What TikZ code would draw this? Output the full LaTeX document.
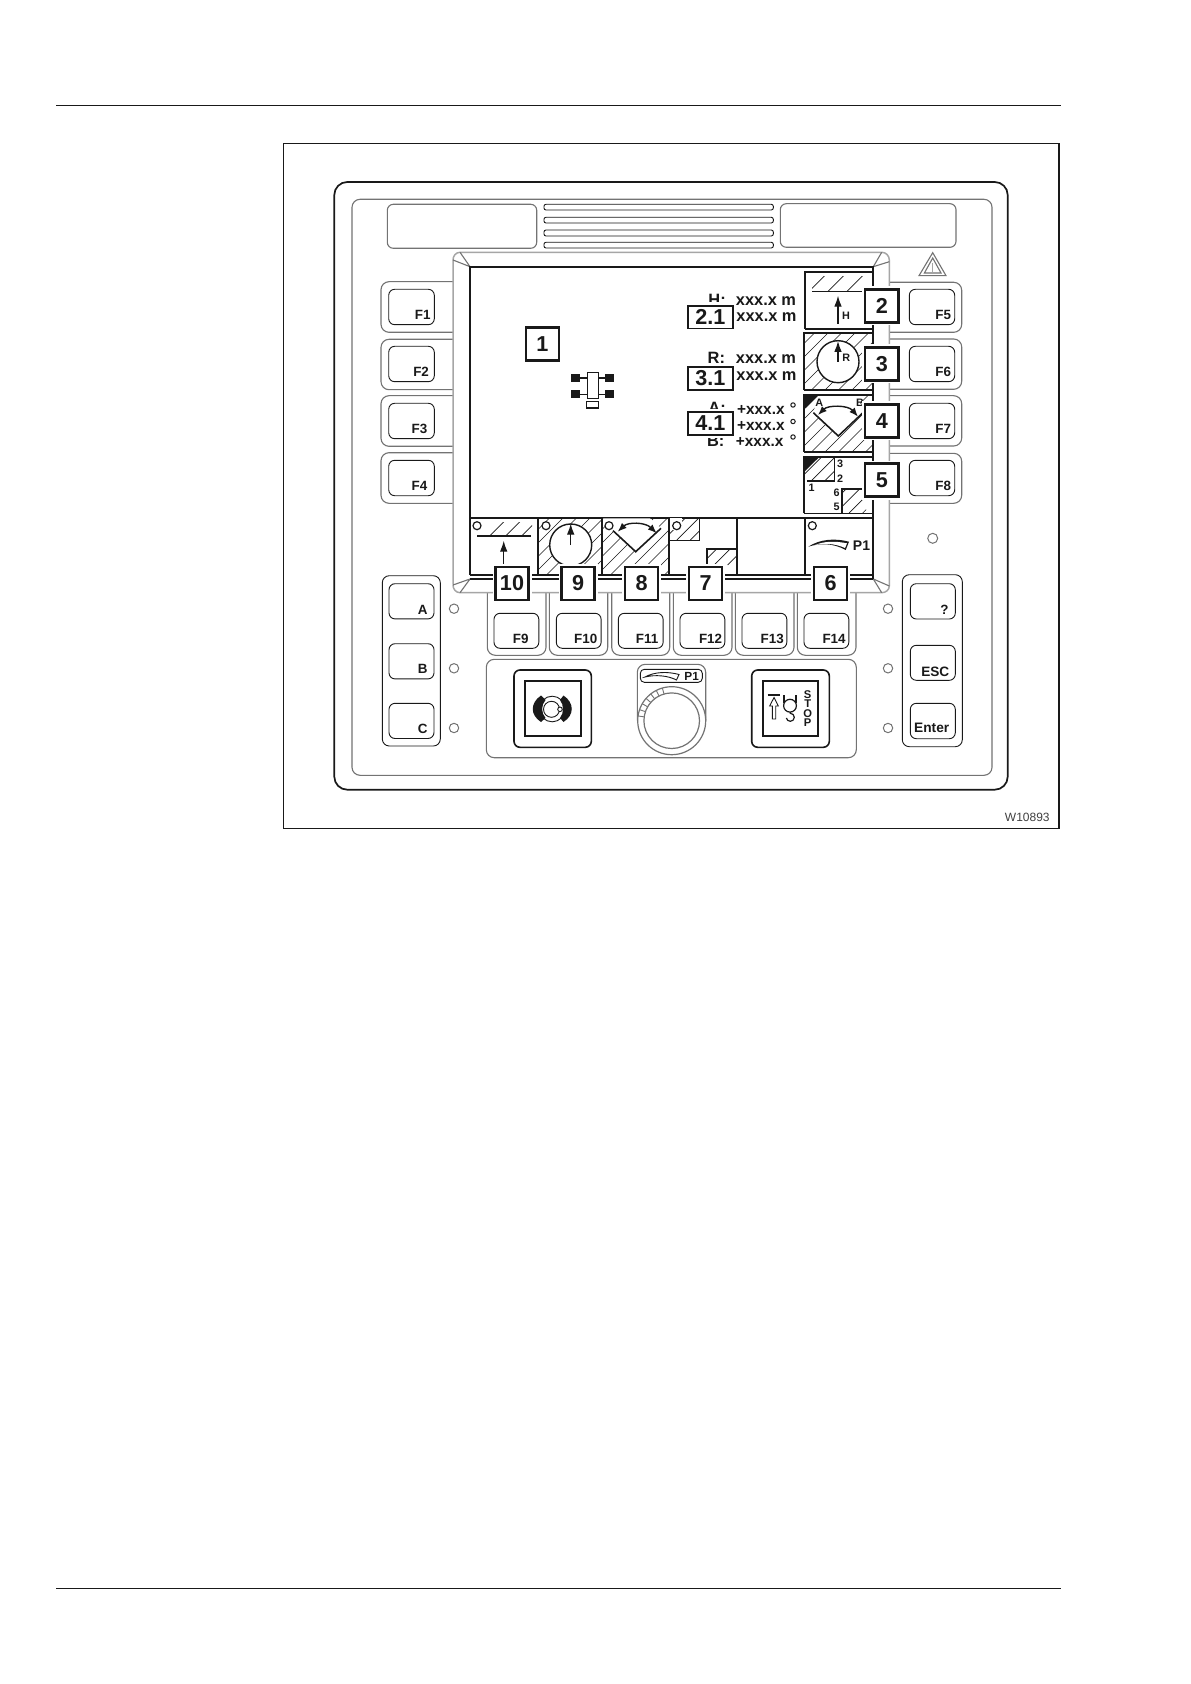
\documentclass[tikz,border=0pt]{standalone}
\usepackage{fontspec}
\setmainfont{Liberation Sans}
\usetikzlibrary{arrows.meta}
\definecolor{ink}{gray}{0.10}
\definecolor{midgray}{gray}{0.45}
\definecolor{lightg}{gray}{0.65}
\tikzset{
  thinl/.style={draw=ink,line width=0.45pt},
  grayl/.style={draw=lightg,line width=0.75pt},
  midl/.style={draw=midgray,line width=0.55pt},
  heavy/.style={draw=ink,line width=1.0pt},
  hatchline/.style={draw=ink,line width=0.33pt},
  housing/.style={draw=midgray,line width=0.55pt,rounded corners=4pt},
  keycap/.style={draw=ink,line width=0.45pt,rounded corners=3pt,fill=white},
  led/.style={draw=midgray,line width=0.5pt,fill=white},
  sled/.style={draw=ink,line width=0.6pt,fill=white},
  numbox/.style={draw=ink,line width=1.15pt,fill=white,minimum width=16.6pt,minimum height=16.6pt,inner sep=0pt,font=\fontsize{10.8}{12}\selectfont\bfseries,text=ink},
  valbox/.style={draw=ink,line width=0.85pt,fill=white,minimum width=22.6pt,minimum height=11.4pt,inner sep=0pt,font=\fontsize{10.8}{12}\selectfont\bfseries,text=ink},
  keylab/.style={inner sep=0pt,anchor=base east,font=\fontsize{6.7}{8}\selectfont\bfseries,text=ink},
  vallab/.style={inner sep=0pt,anchor=base west,font=\fontsize{8.2}{9}\selectfont\bfseries,text=ink},
  anglab/.style={inner sep=0pt,anchor=base west,font=\fontsize{7.7}{9}\selectfont\bfseries,text=ink},
  sidelab/.style={inner sep=0pt,anchor=base west,font=\fontsize{8.2}{9}\selectfont\bfseries,text=ink},
  symlab/.style={inner sep=0pt,anchor=base west,font=\fontsize{5.4}{6}\selectfont\bfseries,text=ink},
  tipa/.style={-{Latex[length=5.5pt,width=3.8pt]},draw=ink,line width=0.6pt},
  arcarr/.style={{Latex[length=4.5pt,width=3.5pt]}-{Latex[length=4.5pt,width=3.5pt]},draw=ink,line width=0.7pt}
}
\newcommand{\hatchrect}[5][13.5]{%
  \begin{scope}
    \clip (#2,#3) rectangle (#4,#5);
    \foreach \k in {0,...,11}{\draw[hatchline] ({#2-60+\k*#1},#5) -- ++(80,-80);}
  \end{scope}}
\begin{document}
\begin{tikzpicture}[x=0.5pt,y=-0.5pt]
\useasboundingbox (0,0) rectangle (1190,1684);
\fill[white] (0,0) rectangle (1190,1684);
% page rules and frame
\draw[thinl,line width=0.6pt] (56,105.3) -- (1060.7,105.3);
\draw[thinl,line width=0.6pt] (56,1588.3) -- (1060.7,1588.3);
\draw[thinl,line width=0.6pt] (283.3,143.3) rectangle (1059,828.3);
% panel
\draw[draw=ink,line width=0.85pt,rounded corners=6.5pt] (334.3,182) rectangle (1007.7,789.7);
\draw[midl,rounded corners=4pt] (352,199.3) rectangle (992,775.3);
\draw[midl,rounded corners=3pt] (387.3,204.3) rectangle (536.7,248.3);
\draw[midl,rounded corners=3pt] (780.3,203.7) rectangle (956,247.3);
% slats
\foreach \a/\b in {204.3/210,217.3/223,230/236,242.3/248}{
  \draw[thinl,rounded corners=1pt] (544,\a) rectangle (773.3,\b);
}
% warning triangle and right led
\draw[midl] (932.7,252.7) -- (946,275.7) -- (919,275.7) -- cycle;
\draw[midl] (932.7,258) -- (941,273) -- (924.4,273) -- cycle;
\draw[draw=lightg,line width=0.6pt] (932.7,263) -- (932.7,272);
\draw[led] (932.7,538.3) circle (2.5pt);
% left housings
\foreach \a/\b in {281.7/332.3,339.3/389.7,395.7/446.3,452.7/503.3}{
  \draw[housing] (453,\a) -- (381,\a) -- (381,\b) -- (453,\b);
}
\foreach \a/\t/\r in {289.3/F1/431,346.3/F2/429.3,403.3/F3/427.7,460.3/F4/427.7}{
  \draw[keycap] (388.7,\a) rectangle (434.3,\a+35.4);
  \node[keylab] at (\r,\a+30) {\t};
}
% right housings
\foreach \a/\b in {282.3/332.3,339/389.3,395.7/446,453.3/503.3}{
  \draw[housing] (889.3,\a) -- (961.7,\a) -- (961.7,\b) -- (889.3,\b);
}
\foreach \a/\t in {289.3/F5,346.3/F6,403.3/F7,460.3/F8}{
  \draw[keycap] (909.3,\a) rectangle (954.7,\a+35.4);
  \node[keylab] at (951.5,\a+30.5) {\t};
}
% bottom housings
\foreach \a/\b in {487.3/546,549.3/607.7,611.7/669.7,673.3/732,735.3/794,797.3/856}{
  \draw[housing] (\a,592.7) -- (\a,655.3) -- (\b,655.3) -- (\b,592.7);
}
\foreach \a/\t/\r in {494/F9/529,556.3/F10/597.7,618.3/F11/658.7,680/F12/722.5,742/F13/784.2,804/F14/846}{
  \draw[keycap] (\a,613.3) rectangle (\a+44.8,648.3);
  \node[keylab] at (\r,643.3) {\t};
}
% bezel
\draw[grayl] (453,592.7-8) -- (453,260) to[out=90,in=180] (460,252.3) -- (881.7,252.3) to[out=0,in=90] (889.3,260) -- (889.3,586) to[out=-90,in=0] (881.7,592.7) -- (460,592.7) to[out=180,in=-90] (453,585);
\draw[midl] (453,260) -- (470,266.7) -- (460,252.3);
\draw[midl] (453,585) -- (470,579) -- (460,592.7);
\draw[midl] (873.3,266.7) -- (889.3,261.7);
\draw[midl] (873.3,266.7) -- (881.7,252.3);
\draw[midl] (873.3,579) -- (889.3,586);
\draw[midl] (873.3,579) -- (881.7,592.7);
% side leds
\foreach \y in {608.7,668.3,728}{
  \draw[led] (454,\y) circle (2.35pt);
  \draw[led] (888,\y) circle (2.35pt);
}
% A B C group
\draw[thinl,rounded corners=3.5pt] (382.3,575.7) rectangle (440.3,746);
\foreach \a/\t/\b in {583.7/A/614,643.7/B/673.3,703.3/C/733}{
  \draw[keycap] (389,\a) rectangle (434,\a+35.2);
  \node[keylab] at (428,\b) {\t};
}
% right group
\draw[thinl,rounded corners=3.5pt] (902.3,574.7) rectangle (962.3,746.7);
\draw[keycap] (910.3,583.7) rectangle (955.3,619);
\draw[keycap] (910.3,645.3) rectangle (955.3,680.3);
\draw[keycap] (910.3,703.3) rectangle (955.3,738.7);
\node[keylab] at (949,614) {?};
\node[keylab,font=\fontsize{6.8}{8}\selectfont\bfseries] at (949.6,676.7) {ESC};
\node[keylab,font=\fontsize{6.85}{8}\selectfont\bfseries] at (949.6,732.7) {Enter};
% lower panel
\draw[midl,rounded corners=4pt] (486.3,659.3) rectangle (856.3,757.7);
% left button
\draw[draw=ink,line width=0.8pt,rounded corners=3pt] (514,670) rectangle (591.3,747.3);
\draw[draw=ink,line width=1.05pt] (525,681) rectangle (580.7,736.3);
\draw[thinl] (552.2,709) circle (6.4pt);
\fill[ink] (541,695.5) .. controls (530,703) and (530,715) .. (541,722) -- (545.5,718) .. controls (541,713) and (541,705) .. (545.5,700) -- cycle;
\fill[ink] (563.5,695.5) .. controls (574.5,703) and (574.5,715) .. (563.5,722) -- (560,718) .. controls (564,713) and (564,705) .. (560,700) -- cycle;
\draw[thinl,fill=white] (551.5,709.3) circle (4pt);
\draw[thinl,fill=white] (560,709.3) circle (1.15pt);
% right button
\draw[draw=ink,line width=0.8pt,rounded corners=3pt] (751.7,670) rectangle (829.3,747.3);
\draw[draw=ink,line width=1.05pt] (762.7,681) rectangle (818.3,736.3);
\draw[draw=ink,line width=0.9pt] (767.7,695) -- (780,695);
\draw[thinl,line join=miter] (772.3,719) -- (772.3,706) -- (769.7,706) -- (774,697.5) -- (778.3,706) -- (775.7,706) -- (775.7,719) -- cycle;
\draw[draw=ink,line width=0.6pt] (784,695) -- (784,703);
\draw[draw=ink,line width=0.6pt] (796,695) -- (796,703);
\draw[draw=ink,line width=0.6pt] (790,705.7) circle (3.2pt);
\draw[draw=ink,line width=0.6pt] (790.3,712) -- (790.3,713.3) arc[start angle=90,end angle=-170,radius=2pt];
\foreach \l/\y in {S/698,T/707,O/717,P/726.5}{
  \node[inner sep=0pt,anchor=base,font=\fontsize{5.6}{6}\selectfont\bfseries,text=ink] at (807.7,\y) {\l};
}
% knob
\draw[midl,rounded corners=4pt] (637.3,720.7) -- (637.3,664.3) -- (705.7,664.3) -- (705.7,720.7);
\fill[white] (671.7,720.7) circle (17pt);
\draw[midl,line width=0.6pt] (671.7,720.7) circle (17pt);
\draw[midl,line width=0.6pt] (671.7,720.7) circle (13.9pt);
\foreach \a in {172,161,150,139,128,117,106}{
  \draw[midl,line width=0.45pt] ({671.7+27.8*cos(\a)},{720.7-27.8*sin(\a)}) -- ({671.7+34*cos(\a)},{720.7-34*sin(\a)});
}
\draw[thinl,rounded corners=2pt] (640.3,669.3) rectangle (702.3,682.3);
\draw[thinl,fill=white] (645,677) .. controls (655,671.5) and (668,671.5) .. (679,674.5) -- (676.5,680) .. controls (668,675.5) and (655,674.5) .. (645,677) -- cycle;
\node[inner sep=0pt,anchor=base west,font=\fontsize{5.9}{6}\selectfont\bfseries,text=ink] at (684,680.7) {P1};
% screen
\fill[white] (470,266.7) rectangle (873.3,579);
\draw[heavy] (470,517.7) -- (470,266.7) -- (873.3,266.7) -- (873.3,579);
\draw[heavy] (470,517.7) -- (470,575);
\draw[thinl,line width=0.55pt] (470,575) -- (873.3,575);
\draw[heavy] (470,579.3) -- (873.3,579.3);
\draw[heavy] (470,517.7) -- (873.3,517.7);
\foreach \x in {538.3,602.3,669.3,736.7,805}{\draw[heavy] (\x,517.7) -- (\x,575);}
% key 10
\begin{scope}
  \clip (489,522) rectangle (532,535.7);
  \foreach \k in {0,...,3}{\draw[hatchline] ({490+\k*16},535.7) -- ++(30,-30);}
\end{scope}
\draw[sled] (477,525.7) circle (2pt);
\draw[heavy,line width=0.8pt] (477.3,535.7) -- (531,535.7);
\draw[tipa] (503.7,564) -- (503.7,540.7);
% key 9
\hatchrect{539}{518.4}{602}{575}
\draw[draw=ink,line width=0.7pt,fill=white] (570.7,545) circle (10.5pt);
\draw[sled] (546,525.7) circle (2pt);
\draw[tipa] (570.7,545) -- (570.7,523.6);
% key 8
\hatchrect{603}{518.4}{669}{575}
\fill[white] (603,518.4) -- (613,530.7) -- (635.7,551.7) -- (661,528.3) -- (650,518.4) -- cycle;
\draw[sled] (609,525.7) circle (2pt);
\draw[draw=ink,line width=0.8pt] (613,530.7) -- (635.7,551.7) -- (661,528.3);
\draw[arcarr] (617.7,531.7) .. controls (628,522) and (645,522) .. (656.7,533.3);
% key 7
\hatchrect{669.3}{518}{699.3}{540}
\fill[white] (670,518.4) rectangle (682,530);
\draw[sled] (676.7,525.7) circle (2pt);
\draw[thinl] (669.3,540) -- (699.3,540) -- (699.3,518);
\hatchrect{706.7}{549}{736}{565}
\draw[draw=ink,line width=0.8pt] (706.7,565) -- (706.7,549) -- (736.7,549);
% key 6
\draw[sled] (812.3,525.7) circle (2pt);
\fill[ink] (808.3,546.7) .. controls (820,539) and (835,538) .. (849,541.7) -- (845.7,550) .. controls (833,543) and (820,543) .. (808.3,546.7) -- cycle;
\fill[white] (815,545) .. controls (825,541) and (835,541) .. (847,543.3) -- (845,548) .. controls (835,543.5) and (825,543) .. (815,545) -- cycle;
\node[inner sep=0pt,anchor=base west,font=\fontsize{7}{7}\selectfont\bfseries,text=ink] at (852.5,550) {P1};
% key 2
\draw[heavy] (804.7,329) -- (804.7,272) -- (873,272);
\draw[heavy] (804.7,329) -- (873,329);
\hatchrect[19]{812}{276.5}{866}{291.3}
\draw[thinl,line width=0.6pt] (812.3,291.3) -- (862.3,291.3);
\draw[tipa] (838,324) -- (838,295.7);
\node[symlab] at (841.7,319.3) {H};
% key 3
\hatchrect{804}{333}{873}{390}
\draw[heavy] (803.7,390.3) -- (803.7,332.7) -- (873,332.7);
\draw[heavy] (803.7,390.3) -- (873,390.3);
\draw[draw=ink,line width=0.7pt,fill=white] (838,361.7) circle (10.5pt);
\draw[tipa] (838,361.7) -- (838,341);
\node[symlab] at (842,361.7) {R};
% key 4
\hatchrect{804}{395}{873}{452}
\fill[white] (813.3,412.7) -- (838.3,436) -- (862.3,413.3) -- (858,396) -- (818,396) -- cycle;
\draw[heavy] (803.7,452) -- (803.7,395) -- (873,395);
\draw[heavy] (803.7,452) -- (873,452);
\fill[ink] (803.7,395) -- (819,395) -- (803.7,410) -- cycle;
\draw[draw=ink,line width=0.8pt] (813.3,412.7) -- (838.3,436) -- (862.3,413.3);
\draw[arcarr] (818,415) .. controls (828,405) and (848,405) .. (858,416.7);
\node[symlab] at (815,406.7) {A};
\node[symlab] at (855.7,407) {B};
% key 5
\hatchrect{804}{458}{834}{480.7}
\draw[heavy] (804,513.3) -- (804,457.3) -- (873,457.3);
\draw[thinl] (804,513.3) -- (873,513.3);
\fill[ink] (804,457.3) -- (819,457.3) -- (804,472) -- cycle;
\draw[draw=ink,line width=0.8pt] (807.3,480.7) -- (834.3,480.7) -- (834.3,457.3);
\node[symlab] at (836.7,467.7) {3};
\node[symlab] at (836.7,482.3) {2};
\node[symlab] at (808.3,491) {1};
\node[symlab] at (833.3,496.7) {6};
\node[symlab] at (833.3,510.7) {5};
\hatchrect{841.7}{489}{866}{513}
\draw[draw=ink,line width=0.8pt] (841.7,513) -- (841.7,489) -- (862,489);
% vehicle icon
\foreach \y in {378,394.3}{
  \draw[thinl,line width=0.6pt] (580,\y) -- (605,\y);
  \fill[ink] (571,\y-4) rectangle (580,\y+4);
  \fill[ink] (605,\y-4) rectangle (614,\y+4);
}
\draw[thinl,line width=0.6pt,fill=white] (587.3,372.7) rectangle (598.3,398.3);
\draw[thinl,line width=0.6pt,fill=white] (586.7,401.7) rectangle (598.7,408);
% readings
\node[sidelab] at (708,305.5) {H:};
\node[vallab] at (735.5,305.5) {xxx.x m};
\node[vallab] at (736,322) {xxx.x m};
\fill[white] (686,301.7) rectangle (733.8,330);
\node[valbox] (v21) at (710.3,317.2) {2.1};
\node[sidelab] at (707.3,364) {R:};
\node[vallab] at (735.5,364) {xxx.x m};
\node[vallab] at (736,381) {xxx.x m};
\node[valbox] (v31) at (710.3,378.3) {3.1};
\node[sidelab] at (708,414) {A:};
\node[sidelab] at (706.7,446.7) {B:};
\fill[white] (686,409.3) rectangle (733.8,438.3);
\node[anglab] at (736.7,414.3) {+xxx.x};
\node[anglab] at (736.7,430.3) {+xxx.x};
\node[anglab] at (735.5,446.7) {+xxx.x};
\foreach \y in {405,421.5,437}{\draw[thinl,line width=0.5pt] (793,\y) circle (1.1pt);}
\node[valbox] (v41) at (710.3,423.3) {4.1};
% number boxes with white surround
\foreach \x/\y in {542.3/344,881.8/306,881.8/364,881.8/421,881.8/480,512/583.3,578/583.3,641.7/583.3,705.5/583.3,830.5/583.3}{
  \fill[white] (\x-19.5,\y-19.5) rectangle (\x+19.5,\y+19.5);
}
\node[numbox] (n1) at (542.3,344) {1};
\node[numbox] (n2) at (881.8,306) {2};
\node[numbox] (n3) at (881.8,364) {3};
\node[numbox] (n4) at (881.8,421) {4};
\node[numbox] (n5) at (881.8,480) {5};
\node[numbox] (n10) at (512,583.3) {10};
\node[numbox] (n9) at (578,583.3) {9};
\node[numbox] (n8) at (641.7,583.3) {8};
\node[numbox] (n7) at (705.5,583.3) {7};
\node[numbox] (n6) at (830.5,583.3) {6};
% drawing number
\node[inner sep=0pt,anchor=base east,font=\fontsize{6}{7}\selectfont,text=black!75] (wnum) at (1050,821.7) {W10893};
\end{tikzpicture}
\end{document}
